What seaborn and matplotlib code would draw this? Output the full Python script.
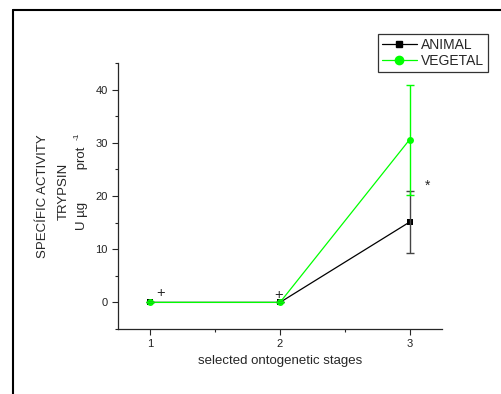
import pandas as pd
import matplotlib.pyplot as plt
import seaborn as sns
from matplotlib.lines import Line2D
from matplotlib.ticker import MultipleLocator

# Data
stages = [1, 2, 3]
animal = [0.0, 0.0, 15.1]
animal_err = [0.0, 0.0, 5.75]
vegetal = [0.0, 0.0, 30.6]
vegetal_err = [0.0, 0.0, 10.35]
ylabel_lines = ["SPECÍFIC ACTIVITY", "TRYPSIN", "U µg         prot"]

df = pd.DataFrame({
    "stage": stages * 2,
    "activity": animal + vegetal,
    "group": ["ANIMAL"] * 3 + ["VEGETAL"] * 3,
})

sns.set_style("ticks")
plt.rcParams["font.family"] = ["Liberation Sans", "DejaVu Sans"]
plt.rcParams["xtick.major.size"] = 4
plt.rcParams["ytick.major.size"] = 4
plt.rcParams["xtick.minor.size"] = 2.5
plt.rcParams["ytick.minor.size"] = 2.5

W, H = 501, 394
fig = plt.figure(figsize=(W / 100, H / 100), dpi=100)
ax = fig.add_axes([0.2355, 0.165, 0.6467, 0.675])

green = "#00ff00"
sns.lineplot(
    data=df, x="stage", y="activity", hue="group", style="group",
    markers={"ANIMAL": "s", "VEGETAL": "o"}, dashes=False,
    palette={"ANIMAL": "black", "VEGETAL": green},
    markersize=5, markeredgewidth=0, linewidth=0.9, ax=ax, legend=False,
)
ax.errorbar(stages, animal, yerr=animal_err, fmt="none", ecolor="#444444",
            elinewidth=1, capsize=3, capthick=1)
ax.errorbar(stages, vegetal, yerr=vegetal_err, fmt="none", ecolor=green,
            elinewidth=1, capsize=3, capthick=1)

ax.set_xlim(0.75, 3.25)
ax.set_ylim(-5, 45)
ax.xaxis.set_major_locator(MultipleLocator(1))
ax.xaxis.set_minor_locator(MultipleLocator(0.5))
ax.yaxis.set_major_locator(MultipleLocator(10))
ax.yaxis.set_minor_locator(MultipleLocator(5))
ax.tick_params(labelsize=8, width=0.8, labelcolor="#222222")
ax.tick_params(which="minor", width=0.8)
sns.despine(ax=ax)
for s in ["left", "bottom"]:
    ax.spines[s].set_linewidth(0.9)

ax.set_xlabel("selected ontogenetic stages", fontsize=9.5, labelpad=4)
ax.set_ylabel("")

# three-line y label, placed line by line
for (px, py), txt in zip([(43, 196), (64, 191), (82, 188)], ylabel_lines):
    fig.text(px / W, 1 - py / H, txt, rotation=90, fontsize=9.5,
             ha="center", va="center")
fig.text(77 / W, 1 - 136 / H, "-1", rotation=90, fontsize=6,
         ha="center", va="center")

# significance marks
ax.text(1.08, 1.7, "+", fontsize=10.5, ha="center", va="center")
ax.text(1.99, 1.4, "+", fontsize=10.5, ha="center", va="center")
ax.text(3.14, 22, "*", fontsize=10, ha="center", va="center")

handles = [
    Line2D([], [], color="black", marker="s", markersize=5, linewidth=0.9),
    Line2D([], [], color=green, marker="o", markersize=6, linewidth=0.9),
]
leg = fig.legend(handles, ["ANIMAL", "VEGETAL"], loc="upper right",
                 bbox_to_anchor=(0.974, 0.914), fontsize=10, fancybox=False,
                 framealpha=1, edgecolor="#333333", handlelength=2.5,
                 borderpad=0.3, labelspacing=0.15, handletextpad=0.3,
                 borderaxespad=0)
leg.get_frame().set_linewidth(0.9)

# outer page frame
fig.add_artist(Line2D([13 / W, 13 / W], [0, 1 - 10 / H],
                      transform=fig.transFigure, color="black", linewidth=1.5))
fig.add_artist(Line2D([13 / W, 1], [1 - 10 / H, 1 - 10 / H],
                      transform=fig.transFigure, color="black", linewidth=1.5))

fig.savefig("out.png", dpi=100)
